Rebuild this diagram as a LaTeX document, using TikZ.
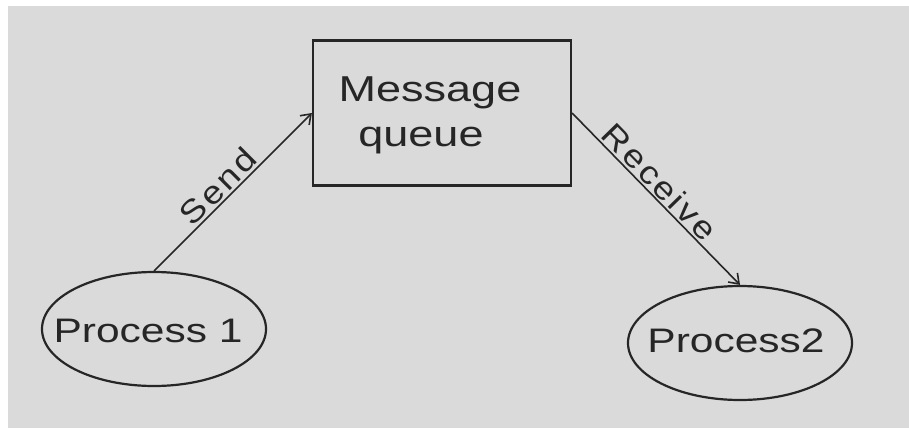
\documentclass[tikz,border=0pt]{standalone}
\usepackage{fontspec}
\newfontfamily\handfont[FakeStretch=1.25]{Liberation Sans}
\newfontfamily\labelfont[FakeStretch=1.15,LetterSpace=8]{Liberation Sans}
\usetikzlibrary{shapes.geometric,arrows.meta}
\definecolor{paper}{RGB}{218,218,218}
\definecolor{ink}{RGB}{38,38,38}
\begin{document}
\begin{tikzpicture}[x=1pt,y=-1pt,
  inkline/.style={draw=ink,line width=2.2pt},
  proc/.style={ellipse, inkline, minimum width=224pt, minimum height=114pt, inner sep=0pt},
  queuebox/.style={rectangle, inkline, minimum width=258pt, minimum height=145pt},
  hand/.style={text=ink, inner sep=0pt, font=\handfont\fontsize{36}{40}\selectfont},
  proctext/.style={text=ink, inner sep=0pt, font=\handfont\fontsize{34}{36}\selectfont},
  edgelabel/.style={text=ink, inner sep=2pt, font=\labelfont\fontsize{32}{34}\selectfont},
  flow/.style={draw=ink, line width=1.6pt, -{Straight Barb[length=9pt,width=13pt]}}]
  % sheet of paper on a white ground
  \fill[white] (0,0) rectangle (909,428);
  \fill[paper] (8,6) rectangle (909,428);
  \useasboundingbox (0,0) rectangle (909,428);

  % message queue
  \node[queuebox] (mq) at (442,113) {};
  \node[hand] (mqtop) at (430,93) {Message};
  \node[hand] (mqbot) at (421,141) {queue};

  % processes
  \node[proc] (p1) at (154,329) {};
  \node[proctext] (p1t) at (148,331) {Process 1};
  \node[proc] (p2) at (740,343) {};
  \node[proctext] (p2t) at (736,341) {Process2};

  % flows
  \draw[flow] (p1.north) -- node[edgelabel, sloped, above, pos=0.47] {Send} (mq.west);
  \draw[flow] (mq.east) -- node[edgelabel, sloped, above, pos=0.46] {Receive} (p2.north);
\end{tikzpicture}
\end{document}
